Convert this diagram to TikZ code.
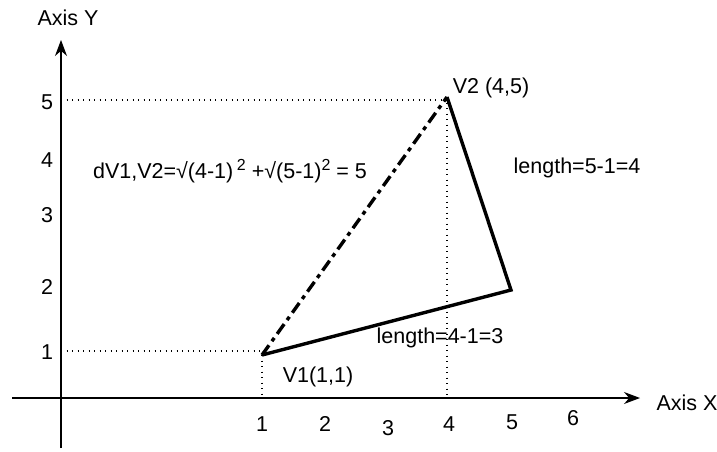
\documentclass[tikz,border=0pt]{standalone}
\usepackage{fontspec}
\setmainfont{Liberation Sans}
\usetikzlibrary{arrows.meta}
\begin{document}
\begin{tikzpicture}[x=1pt,y=-1pt,
  lbl/.style={font=\fontsize{21.5}{24}\selectfont, inner sep=0pt},
  axis/.style={line width=1.2pt, -{Stealth[length=16pt,width=12pt]}},
  guide/.style={line width=1.3pt, dash pattern=on 1.3pt off 4.2pt},
  side/.style={line width=3.4pt, line join=miter},
  diag/.style={line width=3.4pt, dash pattern=on 12pt off 5pt on 4pt off 5pt}]
\useasboundingbox (0,0) rectangle (717,452);
% axes
\coordinate (xs) at (12,398);
\coordinate (xe) at (640,398);
\coordinate (ys) at (61,448);
\coordinate (ye) at (61,40);
\draw[axis] (xs) -- (xe);
\draw[axis] (ys) -- (ye);
\node[lbl] (ax) at (687,403) {Axis X};
\node[lbl] (ay) at (68,18) {Axis Y};
% vertices
\coordinate (v1) at (262,355);
\coordinate (v2) at (447,97);
\coordinate (v3) at (511,290);
% guides
\coordinate (y1) at (61,351);
\coordinate (y5) at (61,100);
\coordinate (x1) at (262,398);
\coordinate (x4) at (447,398);
\draw[guide] (y1) -- (v1 |- y1);
\draw[guide] (y5) -- (v2 |- y5);
\draw[guide] (v1) -- (x1);
\draw[guide] (v2) -- (x4);
% triangle
\draw[side] (v2) -- (v3) -- (v1);
\draw[diag] (v1) -- (v2);
% tick labels
\node[lbl] (ty5) at (47,102) {5};
\node[lbl] (ty4) at (47,160) {4};
\node[lbl] (ty3) at (47,215) {3};
\node[lbl] (ty2) at (47,287) {2};
\node[lbl] (ty1) at (47,352) {1};
\node[lbl] (tx1) at (262,424) {1};
\node[lbl] (tx2) at (325,424) {2};
\node[lbl] (tx3) at (388,428) {3};
\node[lbl] (tx4) at (449,424) {4};
\node[lbl] (tx5) at (512,422) {5};
\node[lbl] (tx6) at (573,418) {6};
% labels
\node[lbl] (lv2) at (491,88) {V2 (4,5)};
\node[lbl] (lv1) at (318,377) {V1(1,1)};
\node[lbl] (l4) at (577,168) {length=5-1=4};
\node[lbl] (l3) at (440,338) {length=4-1=3};
\node[lbl] (f) at (230,171) {dV1,V2=√(4-1)\,\raisebox{8pt}{\fontsize{16}{18}\selectfont 2} +√(5-1)\raisebox{8pt}{\fontsize{16}{18}\selectfont 2} = 5};
\end{tikzpicture}
\end{document}
